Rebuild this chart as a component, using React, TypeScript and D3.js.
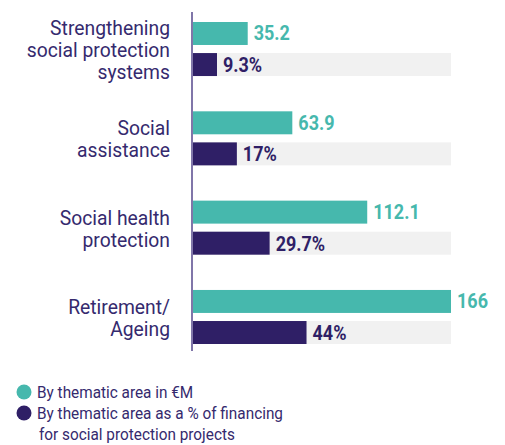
import React from 'react';
import * as d3 from 'd3';

const categories = [
  ['Strengthening', 'social protection', 'systems'],
  ['Social', 'assistance'],
  ['Social health', 'protection'],
  ['Retirement/', 'Ageing'],
];
const eurValues = [35.2, 63.9, 112.1, 166];
const eurLabels = ['35.2', '63.9', '112.1', '166'];
const pctValues = [9.3, 17, 29.7, 44];
const pctLabels = ['9.3%', '17%', '29.7%', '44%'];
const legendItems = [
  { key: 'eur', lines: ['By thematic area in €M'] },
  { key: 'pct', lines: ['By thematic area as a % of financing', 'for social protection projects'] },
];

const TEAL = '#46b8ad';
const PURPLE = '#2f1f66';
const TEXT = '#352a6e';
const GREY = '#f1f1f1';
const FONT = 'Roboto, sans-serif';

export default function App() {
  const ref = React.useRef<SVGSVGElement>(null);

  React.useEffect(() => {
    if (!ref.current) return;
    const svg = d3.select(ref.current);
    svg.selectAll('*').remove();

    const x0 = 193;
    const xEur = d3.scaleLinear().domain([0, 166]).range([x0, 451]);
    const xPct = d3.scaleLinear().domain([0, 100]).range([x0, 451]);

    const idx = categories.map((_, i) => String(i));
    const y = d3.scaleBand().domain(idx).range([22, 344]).paddingInner(0.395).paddingOuter(0);
    const yInner = d3.scaleBand().domain(['eur', 'pct']).range([0, y.bandwidth()]).paddingInner(0.26);
    const bh = yInner.bandwidth();

    const g = svg.append('g');

    const groups = g.selectAll('g.grp')
      .data(idx)
      .join('g')
      .attr('class', 'grp')
      .attr('transform', d => `translate(0,${y(d)})`);

    // grey track behind the percentage bar
    groups.append('rect')
      .attr('x', xPct(0))
      .attr('y', yInner('pct')!)
      .attr('width', xPct(100) - xPct(0))
      .attr('height', bh)
      .attr('fill', GREY);

    groups.append('rect')
      .attr('x', xEur(0))
      .attr('y', yInner('eur')!)
      .attr('width', (d) => xEur(eurValues[+d]) - xEur(0))
      .attr('height', bh)
      .attr('fill', TEAL);

    groups.append('rect')
      .attr('x', xPct(0))
      .attr('y', yInner('pct')!)
      .attr('width', (d) => xPct(pctValues[+d]) - xPct(0))
      .attr('height', bh)
      .attr('fill', PURPLE);

    // value labels
    groups.append('text')
      .attr('transform', d => `translate(${xEur(eurValues[+d]) + 6},${yInner('eur')! + bh / 2 + 7}) scale(0.9,1)`)
      .attr('font-family', FONT)
      .attr('font-weight', 700)
      .attr('font-size', 20)
      .attr('fill', TEAL)
      .text(d => eurLabels[+d]);

    groups.append('text')
      .attr('transform', d => `translate(${xPct(pctValues[+d]) + 6},${yInner('pct')! + bh / 2 + 7.5}) scale(0.9,1)`)
      .attr('font-family', FONT)
      .attr('font-weight', 700)
      .attr('font-size', 20)
      .attr('fill', PURPLE)
      .text(d => pctLabels[+d]);

    // category labels
    const lh = 22;
    groups.each(function (d) {
      const lines = categories[+d];
      const cy = y.bandwidth() / 2;
      const first = cy + 8 - ((lines.length - 1) * lh) / 2;
      d3.select(this).selectAll('text.cat')
        .data(lines)
        .join('text')
        .attr('class', 'cat')
        .attr('transform', (_, i) => `translate(170,${first + i * lh}) scale(0.92,1)`)
        .attr('text-anchor', 'end')
        .attr('font-family', FONT)
        .attr('font-size', 21)
        .attr('fill', TEXT)
        .text(t => t);
    });

    // axis line
    g.append('line')
      .attr('x1', 192).attr('x2', 192)
      .attr('y1', 12).attr('y2', 351)
      .attr('stroke', '#56498c')
      .attr('stroke-width', 1.5);

    // legend
    const lg = svg.append('g');
    const colors: Record<string, string> = { eur: TEAL, pct: PURPLE };
    legendItems.forEach((item, i) => {
      const cy = 392 + i * 21;
      lg.append('circle').attr('cx', 24).attr('cy', cy).attr('r', 7.5).attr('fill', colors[item.key]);
      item.lines.forEach((t, j) => {
        lg.append('text')
          .attr('transform', `translate(${j === 0 ? 37 : 39},${cy + 6 + j * 21}) scale(0.93,1)`)
          .attr('font-family', FONT)
          .attr('font-size', 16.5)
          .attr('fill', TEXT)
          .text(t);
      });
    });
  }, []);

  return (
    <svg
      ref={ref}
      width={505}
      height={445}
      style={{ position: 'absolute', left: 0, top: 0, background: '#fff' }}
    />
  );
}
